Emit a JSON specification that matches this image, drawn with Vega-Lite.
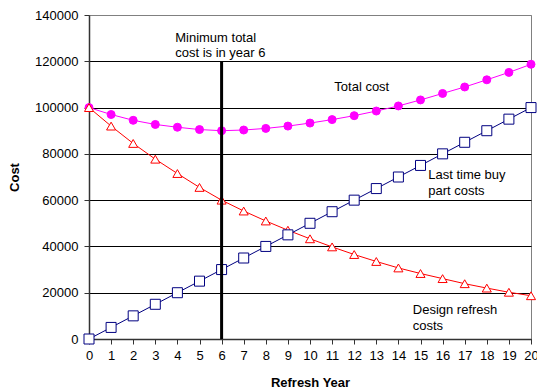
{
  "$schema": "https://vega.github.io/schema/vega-lite/v6.json",
  "width": 442,
  "height": 324,
  "autosize": {"type": "none"},
  "padding": {"left": 89, "top": 15, "right": 6, "bottom": 52},
  "background": "white",
  "config": {
    "font": "Liberation Sans",
    "view": {"stroke": "#808080", "strokeWidth": 1}
  },
  "datasets": {
    "costs": [
      {"year": 0, "series": "Total cost", "cost": 100000},
      {"year": 1, "series": "Total cost", "cost": 97000},
      {"year": 2, "series": "Total cost", "cost": 94500},
      {"year": 3, "series": "Total cost", "cost": 92700},
      {"year": 4, "series": "Total cost", "cost": 91500},
      {"year": 5, "series": "Total cost", "cost": 90500},
      {"year": 6, "series": "Total cost", "cost": 90000},
      {"year": 7, "series": "Total cost", "cost": 90300},
      {"year": 8, "series": "Total cost", "cost": 91000},
      {"year": 9, "series": "Total cost", "cost": 92000},
      {"year": 10, "series": "Total cost", "cost": 93300},
      {"year": 11, "series": "Total cost", "cost": 94800},
      {"year": 12, "series": "Total cost", "cost": 96500},
      {"year": 13, "series": "Total cost", "cost": 98500},
      {"year": 14, "series": "Total cost", "cost": 100700},
      {"year": 15, "series": "Total cost", "cost": 103300},
      {"year": 16, "series": "Total cost", "cost": 106100},
      {"year": 17, "series": "Total cost", "cost": 108900},
      {"year": 18, "series": "Total cost", "cost": 112000},
      {"year": 19, "series": "Total cost", "cost": 115200},
      {"year": 20, "series": "Total cost", "cost": 118700},
      {"year": 0, "series": "Design refresh", "cost": 100000},
      {"year": 1, "series": "Design refresh", "cost": 92000},
      {"year": 2, "series": "Design refresh", "cost": 84500},
      {"year": 3, "series": "Design refresh", "cost": 77700},
      {"year": 4, "series": "Design refresh", "cost": 71500},
      {"year": 5, "series": "Design refresh", "cost": 65500},
      {"year": 6, "series": "Design refresh", "cost": 60000},
      {"year": 7, "series": "Design refresh", "cost": 55300},
      {"year": 8, "series": "Design refresh", "cost": 51000},
      {"year": 9, "series": "Design refresh", "cost": 47000},
      {"year": 10, "series": "Design refresh", "cost": 43300},
      {"year": 11, "series": "Design refresh", "cost": 39800},
      {"year": 12, "series": "Design refresh", "cost": 36500},
      {"year": 13, "series": "Design refresh", "cost": 33500},
      {"year": 14, "series": "Design refresh", "cost": 30700},
      {"year": 15, "series": "Design refresh", "cost": 28300},
      {"year": 16, "series": "Design refresh", "cost": 26100},
      {"year": 17, "series": "Design refresh", "cost": 23900},
      {"year": 18, "series": "Design refresh", "cost": 22000},
      {"year": 19, "series": "Design refresh", "cost": 20200},
      {"year": 20, "series": "Design refresh", "cost": 18700},
      {"year": 0, "series": "Last time buy", "cost": 0},
      {"year": 1, "series": "Last time buy", "cost": 5000},
      {"year": 2, "series": "Last time buy", "cost": 10000},
      {"year": 3, "series": "Last time buy", "cost": 15000},
      {"year": 4, "series": "Last time buy", "cost": 20000},
      {"year": 5, "series": "Last time buy", "cost": 25000},
      {"year": 6, "series": "Last time buy", "cost": 30000},
      {"year": 7, "series": "Last time buy", "cost": 35000},
      {"year": 8, "series": "Last time buy", "cost": 40000},
      {"year": 9, "series": "Last time buy", "cost": 45000},
      {"year": 10, "series": "Last time buy", "cost": 50000},
      {"year": 11, "series": "Last time buy", "cost": 55000},
      {"year": 12, "series": "Last time buy", "cost": 60000},
      {"year": 13, "series": "Last time buy", "cost": 65000},
      {"year": 14, "series": "Last time buy", "cost": 70000},
      {"year": 15, "series": "Last time buy", "cost": 75000},
      {"year": 16, "series": "Last time buy", "cost": 80000},
      {"year": 17, "series": "Last time buy", "cost": 85000},
      {"year": 18, "series": "Last time buy", "cost": 90000},
      {"year": 19, "series": "Last time buy", "cost": 95000},
      {"year": 20, "series": "Last time buy", "cost": 100000}
    ],
    "minimum": [
      {"year": 6, "low": 0, "high": 120000}
    ],
    "notes": [
      {"year": 3.9, "cost": 128500, "label": ["Minimum total", "cost is in year 6"]},
      {"year": 11.1, "cost": 107300, "label": ["Total cost"]},
      {"year": 15.35, "cost": 69100, "label": ["Last time buy", "part costs"]},
      {"year": 14.65, "cost": 10800, "label": ["Design refresh", "costs"]}
    ]
  },
  "encoding": {
    "x": {
      "field": "year",
      "type": "quantitative",
      "scale": {"domain": [0, 20], "nice": false, "zero": false},
      "axis": {
        "title": "Refresh Year",
        "titleFontSize": 13,
        "titleFontWeight": "bold",
        "titleColor": "black",
        "titlePadding": 14,
        "values": [0, 1, 2, 3, 4, 5, 6, 7, 8, 9, 10, 11, 12, 13, 14, 15, 16, 17, 18, 19, 20],
        "labelFontSize": 13,
        "labelColor": "black",
        "labelPadding": 5,
        "labelFlush": false,
        "labelOverlap": false,
        "domainColor": "#333333",
        "domainWidth": 1.5,
        "tickColor": "#333333",
        "tickSize": 5,
        "grid": false
      }
    },
    "y": {
      "field": "cost",
      "type": "quantitative",
      "scale": {"domain": [0, 140000], "nice": false},
      "axis": {
        "title": "Cost",
        "titleFontSize": 13,
        "titleFontWeight": "bold",
        "titleColor": "black",
        "titlePadding": 13,
        "values": [0, 20000, 40000, 60000, 80000, 100000, 120000, 140000],
        "format": "d",
        "labelFontSize": 13,
        "labelColor": "black",
        "labelPadding": 6,
        "labelFlush": false,
        "domainColor": "#333333",
        "domainWidth": 1.5,
        "tickColor": "#333333",
        "tickSize": 5,
        "grid": true,
        "gridColor": {"condition": {"test": "datum.value >= 140000", "value": "#808080"}, "value": "black"},
        "gridWidth": 1
      }
    }
  },
  "layer": [
    {
      "data": {"name": "costs"},
      "mark": {"type": "line", "strokeWidth": 1},
      "encoding": {
        "detail": {"field": "series"},
        "color": {
          "field": "series",
          "type": "nominal",
          "scale": {"domain": ["Total cost", "Design refresh", "Last time buy"], "range": ["#FF00FF", "#FF0000", "#000080"]},
          "legend": null
        }
      }
    },
    {
      "data": {"name": "costs"},
      "mark": {"type": "point", "filled": false, "strokeWidth": 1, "opacity": 1},
      "encoding": {
        "shape": {
          "field": "series",
          "type": "nominal",
          "scale": {"domain": ["Total cost", "Design refresh", "Last time buy"], "range": ["circle", "triangle-up", "square"]},
          "legend": null
        },
        "size": {
          "field": "series",
          "type": "nominal",
          "scale": {"domain": ["Total cost", "Design refresh", "Last time buy"], "range": [64, 100, 80]},
          "legend": null
        },
        "stroke": {
          "field": "series",
          "type": "nominal",
          "scale": {"domain": ["Total cost", "Design refresh", "Last time buy"], "range": ["#FF00FF", "#FF0000", "#000080"]},
          "legend": null
        },
        "fill": {
          "field": "series",
          "type": "nominal",
          "scale": {"domain": ["Total cost", "Design refresh", "Last time buy"], "range": ["#FF00FF", "#FFFFFF", "#FFFFFF"]},
          "legend": null
        },
        "fillOpacity": {"value": 1}
      }
    },
    {
      "data": {"name": "minimum"},
      "mark": {"type": "rule", "color": "black", "strokeWidth": 3},
      "encoding": {
        "y": {"field": "low", "type": "quantitative"},
        "y2": {"field": "high"}
      }
    },
    {
      "data": {"name": "notes"},
      "mark": {"type": "text", "align": "left", "baseline": "alphabetic", "fontSize": 13, "lineHeight": 15.5, "color": "black"},
      "encoding": {
        "text": {"field": "label"}
      }
    }
  ]
}
